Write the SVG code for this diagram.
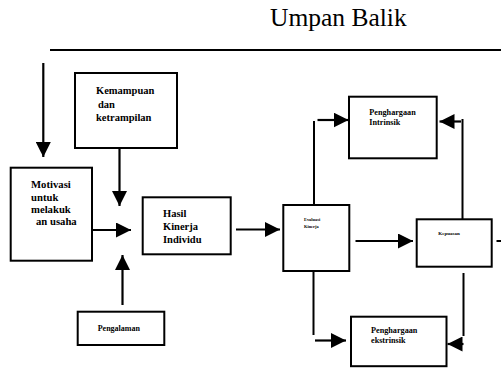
<svg xmlns="http://www.w3.org/2000/svg" width="501" height="368" viewBox="0 0 501 368">
<style>
.box{fill:#fff;stroke:#000;stroke-width:2}
.ln{fill:none;stroke:#000;stroke-width:2}
.ar{fill:none;stroke:#000;stroke-width:2.2;marker-end:url(#ah)}
.t{font-family:"Liberation Serif","Times New Roman",serif;font-weight:bold;fill:#000}
</style>
<defs>
<marker id="ah" markerUnits="userSpaceOnUse" viewBox="0 0 15 15" refX="15" refY="7.5" markerWidth="15" markerHeight="15" orient="auto">
<path d="M0,0 L15,7.5 L0,15 Z" fill="#000"/>
</marker>
</defs>
<rect width="501" height="368" fill="#fff"/>
<text x="270" y="26" font-family="Liberation Serif, Times New Roman, serif" font-size="25.5" fill="#000">Umpan Balik</text>
<g id="connectors">
<line class="ln" x1="50" y1="50" x2="501" y2="50"/>
<path class="ar" d="M43.3,63 L43.3,157"/>
<path class="ar" d="M119.5,148 L119.5,206"/>
<path class="ar" d="M92,230 L131,230"/>
<path class="ar" d="M122.5,305 L122.5,255"/>
<path class="ar" d="M236,229.5 L280,229.5"/>
<path class="ln" d="M314,205 L314,121"/>
<path class="ar" d="M317.5,120 L348.5,120"/>
<path class="ln" d="M313.5,271 L313.5,335"/>
<path class="ar" d="M315,340.5 L346,340.5"/>
<path class="ar" d="M355.5,241 L413,241"/>
<path class="ln" d="M462.5,219 L462.5,119"/>
<path class="ar" d="M461,121.5 L439.5,121.5"/>
<path class="ln" d="M463.5,273 L463.5,336"/>
<path class="ar" d="M463.5,344 L447.5,344"/>
<path class="ln" d="M496.5,241 L501,241"/>
</g>
<g id="kemampuan">
<rect class="box" x="75" y="73" width="102" height="75"/>
<text class="t" font-size="10.5" x="96" y="94">Kemampuan</text>
<text class="t" font-size="10.5" x="98" y="107.5">dan</text>
<text class="t" font-size="10.5" x="96" y="121">ketrampilan</text>
</g>
<g id="motivasi">
<rect class="box" x="10.7" y="167.7" width="81.3" height="93"/>
<text class="t" font-size="10.7" x="31" y="188">Motivasi</text>
<text class="t" font-size="10.7" x="31" y="200.5">untuk</text>
<text class="t" font-size="10.7" x="31" y="212.5">melakuk</text>
<text class="t" font-size="10.7" x="36" y="225">an usaha</text>
</g>
<g id="hasil">
<rect class="box" x="142.7" y="197.3" width="88" height="57"/>
<text class="t" font-size="10.5" x="163" y="217">Hasil</text>
<text class="t" font-size="10.5" x="163" y="230">Kinerja</text>
<text class="t" font-size="10.5" x="163" y="242.5">Individu</text>
</g>
<g id="pengalaman">
<rect class="box" x="77.7" y="311.7" width="86.6" height="33.3"/>
<text class="t" font-size="8" x="97.7" y="331">Pengalaman</text>
</g>
<g id="evaluasi">
<rect class="box" x="283.3" y="205" width="66" height="66"/>
<text class="t" font-size="4.4" x="304" y="221">Evaluasi</text>
<text class="t" font-size="4.4" x="304" y="227.5">Kinerja</text>
</g>
<g id="intrinsik">
<rect class="box" x="349" y="96.7" width="87.7" height="61.6"/>
<text class="t" font-size="8.2" x="369.3" y="115">Penghargaan</text>
<text class="t" font-size="8.2" x="369.3" y="125">Intrinsik</text>
</g>
<g id="ekstrinsik">
<rect class="box" x="351" y="316.7" width="95.5" height="49.5"/>
<text class="t" font-size="8.2" x="371" y="333.3">Penghargaan</text>
<text class="t" font-size="8.2" x="371" y="343.3">ekstrinsik</text>
</g>
<g id="kepuasan">
<rect class="box" x="416.7" y="219.3" width="75" height="47.4"/>
<text class="t" font-size="5" x="438.3" y="235">Kepuasan</text>
</g>
</svg>
